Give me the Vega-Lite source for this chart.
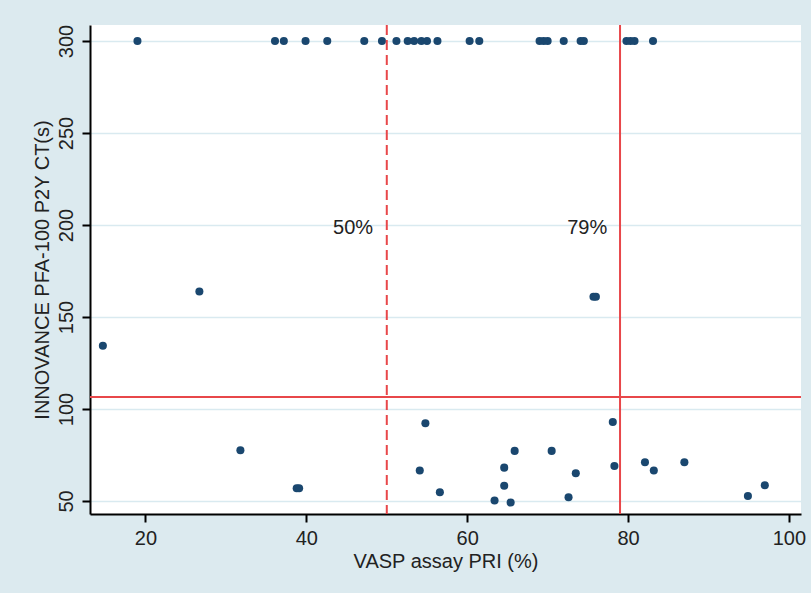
{
  "$schema": "https://vega.github.io/schema/vega-lite/v6.json",
  "width": 711,
  "height": 489,
  "autosize": {"type": "none"},
  "padding": {"left": 90, "top": 25, "right": 10, "bottom": 79},
  "background": "#dceaef",
  "config": {
    "font": "Liberation Sans",
    "view": {"fill": "white", "stroke": null}
  },
  "layer": [
    {
      "data": {
        "values": [
          {"x": 19.0, "y": 300}, {"x": 36.1, "y": 300}, {"x": 37.2, "y": 300}, {"x": 39.9, "y": 300},
          {"x": 42.6, "y": 300}, {"x": 47.2, "y": 300}, {"x": 49.4, "y": 300}, {"x": 51.2, "y": 300},
          {"x": 52.6, "y": 300}, {"x": 53.4, "y": 300}, {"x": 54.3, "y": 300}, {"x": 55.0, "y": 300},
          {"x": 56.3, "y": 300}, {"x": 60.3, "y": 300}, {"x": 61.5, "y": 300}, {"x": 69.0, "y": 300},
          {"x": 69.5, "y": 300}, {"x": 70.0, "y": 300}, {"x": 72.0, "y": 300}, {"x": 74.1, "y": 300},
          {"x": 74.5, "y": 300}, {"x": 79.8, "y": 300}, {"x": 80.3, "y": 300}, {"x": 80.8, "y": 300},
          {"x": 83.1, "y": 300},
          {"x": 14.7, "y": 134.4}, {"x": 26.7, "y": 163.8}, {"x": 31.8, "y": 77.6}, {"x": 38.8, "y": 56.9},
          {"x": 39.1, "y": 56.9}, {"x": 54.8, "y": 92.2}, {"x": 54.1, "y": 66.5}, {"x": 56.6, "y": 54.7},
          {"x": 65.9, "y": 77.2}, {"x": 64.6, "y": 68.1}, {"x": 64.6, "y": 58.3}, {"x": 63.4, "y": 50.2},
          {"x": 65.4, "y": 49.1}, {"x": 70.5, "y": 77.2}, {"x": 73.5, "y": 65.0}, {"x": 72.6, "y": 52.0},
          {"x": 75.7, "y": 161.0}, {"x": 76.0, "y": 161.0}, {"x": 78.1, "y": 92.9}, {"x": 78.3, "y": 69.0},
          {"x": 82.1, "y": 71.0}, {"x": 83.2, "y": 66.5}, {"x": 87.0, "y": 71.0}, {"x": 94.9, "y": 52.7},
          {"x": 97.0, "y": 58.5}
        ]
      },
      "mark": {"type": "circle", "size": 65, "color": "#1a476f", "opacity": 1},
      "encoding": {
        "x": {
          "field": "x", "type": "quantitative",
          "scale": {"domain": [13.1, 101.5], "nice": false, "zero": false},
          "axis": {
            "values": [20, 40, 60, 80, 100],
            "title": "VASP assay PRI (%)",
            "grid": false,
            "labelFlush": false,
            "tickSize": 8, "tickWidth": 2, "tickColor": "black",
            "domainColor": "black", "domainWidth": 2,
            "labelFontSize": 20, "labelPadding": 6, "labelColor": "#222",
            "titleFontSize": 20, "titleFontWeight": "normal", "titleColor": "#222",
            "titleY": 53, "titleBaseline": "alphabetic"
          }
        },
        "y": {
          "field": "y", "type": "quantitative",
          "scale": {"domain": [42.9, 308.7], "nice": false, "zero": false},
          "axis": {
            "values": [50, 100, 150, 200, 250, 300],
            "title": "INNOVANCE PFA-100 P2Y CT(s)",
            "labelAngle": 270, "labelAlign": "center", "labelBaseline": "alphabetic",
            "labelPadding": 10, "labelFlush": false,
            "tickSize": 8, "tickWidth": 2, "tickColor": "black",
            "domainColor": "black", "domainWidth": 2,
            "grid": true, "gridColor": "#d9eaf0", "gridWidth": 1.5,
            "labelFontSize": 20, "labelColor": "#222",
            "titleFontSize": 20, "titleFontWeight": "normal", "titleColor": "#222",
            "titleAngle": 270, "titleX": -42, "titleY": 244.5,
            "titleAlign": "center", "titleBaseline": "alphabetic"
          }
        }
      }
    },
    {
      "data": {"values": [{"x": 50}]},
      "mark": {"type": "rule", "color": "#e8474a", "strokeWidth": 2, "strokeDash": [10, 5]},
      "encoding": {"x": {"field": "x", "type": "quantitative"}}
    },
    {
      "data": {"values": [{"x": 79}]},
      "mark": {"type": "rule", "color": "#e8474a", "strokeWidth": 2},
      "encoding": {"x": {"field": "x", "type": "quantitative"}}
    },
    {
      "data": {"values": [{"y": 106.5}]},
      "mark": {"type": "rule", "color": "#e8474a", "strokeWidth": 2},
      "encoding": {"y": {"field": "y", "type": "quantitative"}}
    },
    {
      "data": {
        "values": [
          {"x": 48.3, "y": 198.4, "label": "50%"},
          {"x": 77.4, "y": 198.4, "label": "79%"}
        ]
      },
      "mark": {"type": "text", "align": "right", "baseline": "middle", "fontSize": 20, "color": "#222"},
      "encoding": {
        "x": {"field": "x", "type": "quantitative"},
        "y": {"field": "y", "type": "quantitative"},
        "text": {"field": "label"}
      }
    }
  ]
}
